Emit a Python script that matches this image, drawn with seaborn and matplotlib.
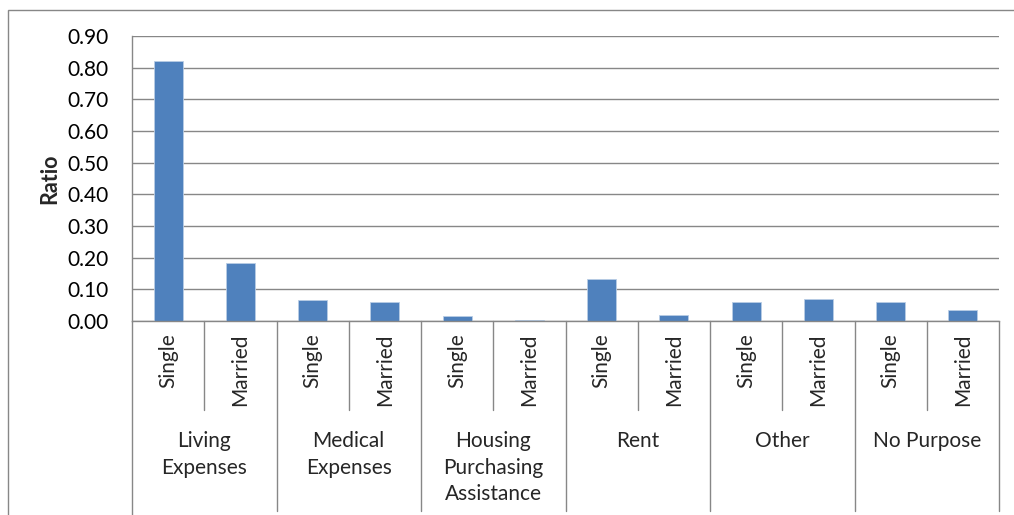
import matplotlib
matplotlib.use("Agg")
import matplotlib.pyplot as plt
import seaborn as sns
import pandas as pd
from matplotlib.patches import Rectangle
from matplotlib.lines import Line2D

# Loan purpose by marital status
purposes = ["Living\nExpenses", "Medical\nExpenses", "Housing\nPurchasing\nAssistance",
            "Rent", "Other", "No Purpose"]
statuses = ["Single", "Married"]
single_ratio = [0.820, 0.066, 0.015, 0.133, 0.060, 0.060]
married_ratio = [0.183, 0.060, 0.002, 0.018, 0.068, 0.035]
y_ticks = [0.0, 0.1, 0.2, 0.3, 0.4, 0.5, 0.6, 0.7, 0.8, 0.9]

rows = []
for p, s, m in zip(purposes, single_ratio, married_ratio):
    rows.append({"slot": f"{p}|Single", "status": "Single", "ratio": s})
    rows.append({"slot": f"{p}|Married", "status": "Married", "ratio": m})
df = pd.DataFrame(rows)

sns.set_theme(style="white")
plt.rcParams["font.family"] = ["Lato", "DejaVu Sans"]

W, H = 1014, 515
fig = plt.figure(figsize=(W / 100, H / 100), dpi=100)
grey = "#878787"
bar_color = "#4f81bd"
fs = 15

# Chart-area frame
fig.patches.append(Rectangle((8 / W, -0.01), 1.1, (H - 10) / H + 0.01,
                             transform=fig.transFigure, fill=False,
                             edgecolor=grey, linewidth=1.0))

left, right, top, bottom = 132, 999, 36, 321
ax = fig.add_axes([left / W, (H - bottom) / H, (right - left) / W, (bottom - top) / H])

sns.barplot(data=df, x="slot", y="ratio", color=bar_color, width=0.4,
            saturation=1, ax=ax, edgecolor="#b9cde5", linewidth=0.6)

ax.set_ylim(0, 0.9)
ax.set_xlim(-0.5, len(df) - 0.5)
ax.set_yticks(y_ticks)
ax.set_yticklabels([f"{v:.2f}" for v in y_ticks], fontsize=fs, color="#000000")
ax.yaxis.grid(True, color=grey, linewidth=1.0)
ax.set_axisbelow(True)
ax.set_xticks([])
ax.set_xlabel("")
ax.set_ylabel("Ratio", fontsize=15.5, fontweight="bold", labelpad=5)
ax.tick_params(axis="y", length=5, width=1, color=grey, direction="out", pad=12)
for side in ["top", "right"]:
    ax.spines[side].set_visible(False)
for side in ["left", "bottom"]:
    ax.spines[side].set_color(grey)
    ax.spines[side].set_linewidth(1.0)

# Two-level category axis
trans = ax.get_xaxis_transform()
px = 1.0 / (bottom - top)
sub_end = -(410 - bottom) * px
grp_end = -(511 - bottom) * px
n = len(df)
for i in range(n + 1):
    xb = i - 0.5
    if i % 2 == 0:
        y_end = -(H + 5 - bottom) * px if i == 0 else grp_end
    else:
        y_end = sub_end
    ax.add_line(Line2D([xb, xb], [0, y_end], transform=trans, color=grey,
                       linewidth=1.0, clip_on=False))

for i, row in df.iterrows():
    ax.text(i, -(333 - bottom) * px, row["status"], transform=trans, rotation=90,
            ha="center", va="top", fontsize=fs)

for g, p in enumerate(purposes):
    ax.text(2 * g + 0.5, -(431 - bottom) * px, p, transform=trans, ha="center",
            va="top", fontsize=fs, linespacing=1.42)

fig.savefig("out.png", dpi=100)
